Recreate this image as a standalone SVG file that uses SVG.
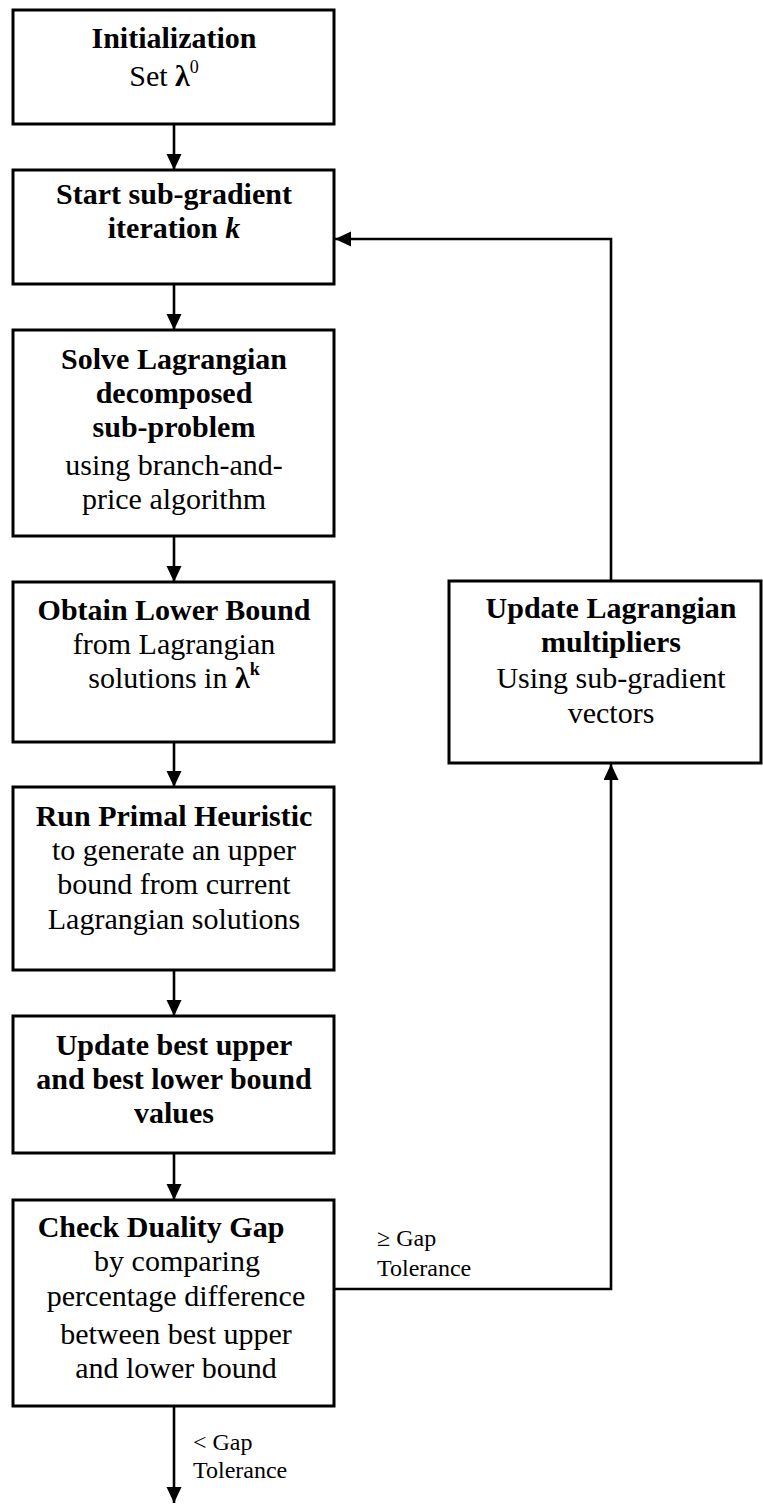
<svg xmlns="http://www.w3.org/2000/svg" width="763" height="1505" viewBox="0 0 763 1505">
<style>
.box{fill:#fff;stroke:#000;stroke-width:3}
.t{font-family:"Liberation Serif","Times New Roman",serif;font-size:30px;fill:#000;text-anchor:middle}
.b{font-weight:bold}
.lbl{font-family:"Liberation Serif","Times New Roman",serif;font-size:24px;fill:#000}
.c{fill:none;stroke:#000;stroke-width:2.6}
</style>
<defs>
<marker id="ah" markerUnits="userSpaceOnUse" markerWidth="17" markerHeight="16" refX="16" refY="7.5" orient="auto">
<path d="M0,0 L16,7.5 L0,15 z" fill="#000"/>
</marker>
</defs>
<rect width="763" height="1505" fill="#fff"/>
<g id="connectors">
<line class="c" x1="174" y1="124" x2="174" y2="170" marker-end="url(#ah)"/>
<line class="c" x1="174" y1="284" x2="174" y2="330" marker-end="url(#ah)"/>
<line class="c" x1="174" y1="536" x2="174" y2="582" marker-end="url(#ah)"/>
<line class="c" x1="174" y1="742" x2="174" y2="787" marker-end="url(#ah)"/>
<line class="c" x1="174" y1="970" x2="174" y2="1016" marker-end="url(#ah)"/>
<line class="c" x1="174" y1="1153" x2="174" y2="1200" marker-end="url(#ah)"/>
<line class="c" x1="174" y1="1406" x2="174" y2="1503" marker-end="url(#ah)"/>
<polyline class="c" points="334,1289 611,1289 611,764" marker-end="url(#ah)"/>
<polyline class="c" points="611,581 611,239 335,239" marker-end="url(#ah)"/>
<text class="lbl" x="377" y="1246">≥ Gap</text>
<text class="lbl" x="377" y="1276">Tolerance</text>
<text class="lbl" x="193" y="1450">&lt; Gap</text>
<text class="lbl" x="193" y="1478">Tolerance</text>
</g>
<g id="n1">
<rect class="box" x="13" y="10" width="321" height="114"/>
<text class="t b" x="174" y="48">Initialization</text>
<text class="t" x="164" y="86">Set <tspan font-weight="bold">λ</tspan><tspan font-size="18" dy="-13">0</tspan></text>
</g>
<g id="n2">
<rect class="box" x="13" y="170" width="321" height="114"/>
<text class="t b" x="174" y="204">Start sub-gradient</text>
<text class="t b" x="174" y="238">iteration <tspan font-style="italic">k</tspan></text>
</g>
<g id="n3">
<rect class="box" x="13" y="330" width="321" height="206"/>
<text class="t b" x="174" y="369">Solve Lagrangian</text>
<text class="t b" x="174" y="403">decomposed</text>
<text class="t b" x="174" y="437">sub-problem</text>
<text class="t" x="174" y="475">using branch-and-</text>
<text class="t" x="174" y="509">price algorithm</text>
</g>
<g id="n4">
<rect class="box" x="13" y="582" width="321" height="160"/>
<text class="t b" x="174" y="620">Obtain Lower Bound</text>
<text class="t" x="174" y="654">from Lagrangian</text>
<text class="t" x="174" y="688">solutions in <tspan font-weight="bold">λ</tspan><tspan font-size="18" dy="-13" font-weight="bold">k</tspan></text>
</g>
<g id="n5">
<rect class="box" x="13" y="787" width="321" height="183"/>
<text class="t b" x="174" y="826">Run Primal Heuristic</text>
<text class="t" x="174" y="860">to generate an upper</text>
<text class="t" x="174" y="894">bound from current</text>
<text class="t" x="174" y="929">Lagrangian solutions</text>
</g>
<g id="n6">
<rect class="box" x="13" y="1016" width="321" height="137"/>
<text class="t b" x="174" y="1055">Update best upper</text>
<text class="t b" x="174" y="1089">and best lower bound</text>
<text class="t b" x="174" y="1123">values</text>
</g>
<g id="n7">
<rect class="box" x="13" y="1200" width="321" height="206"/>
<text class="t b" x="161" y="1237">Check Duality Gap</text>
<text class="t" x="177" y="1271">by comparing</text>
<text class="t" x="176" y="1306">percentage difference</text>
<text class="t" x="176" y="1344">between best upper</text>
<text class="t" x="176" y="1378">and lower bound</text>
</g>
<g id="n8">
<rect class="box" x="449" y="581" width="312" height="182"/>
<text class="t b" x="611" y="618">Update Lagrangian</text>
<text class="t b" x="611" y="652">multipliers</text>
<text class="t" x="611" y="688">Using sub-gradient</text>
<text class="t" x="611" y="723">vectors</text>
</g>
</svg>
